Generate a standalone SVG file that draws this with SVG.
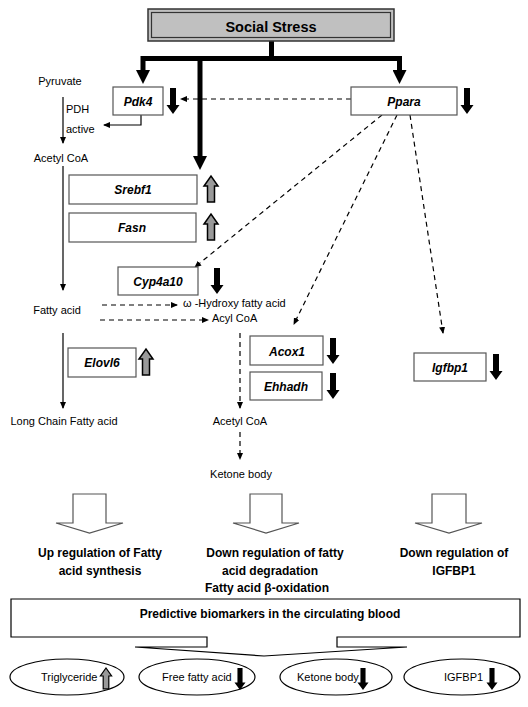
<svg xmlns="http://www.w3.org/2000/svg" width="528" height="707" viewBox="0 0 528 707">
<style>
text{font-family:"Liberation Sans",Arial,sans-serif;fill:#000}
.t{font-size:11px}
.g{font-size:12px;font-weight:bold;font-style:italic}
.b{font-size:12px;font-weight:bold}
.box{fill:#fff;stroke:#555;stroke-width:1.2}
.thin{fill:none;stroke:#000;stroke-width:1.2}
.dash{fill:none;stroke:#000;stroke-width:1.2;stroke-dasharray:5,4}
.thick{fill:none;stroke:#000;stroke-width:5}
.hollow{fill:#fff;stroke:#555;stroke-width:1.2}
</style>
<defs>
<marker id="ah" markerWidth="7" markerHeight="6" refX="6" refY="3" orient="auto" markerUnits="userSpaceOnUse"><path d="M0,0 L7,3 L0,6 Z" fill="#000"/></marker>
<marker id="big" markerWidth="14" markerHeight="14" refX="2" refY="7" orient="auto" markerUnits="userSpaceOnUse"><path d="M0,0 L14,7 L0,14 Z" fill="#000"/></marker>
<path id="dn" d="M-3,0 H3 V17 H6.5 L0,26 L-6.5,17 H-3 Z" fill="#000"/>
<path id="up" d="M-3.5,26 V10 H-7 L0,0 L7,10 H3.5 V26 Z" fill="#999" stroke="#000" stroke-width="1.5"/>
</defs>

<g id="connectors">
<path class="thick" d="M271.5,41 V58.5"/>
<path class="thick" d="M143,58.5 H399.5"/>
<path class="thick" d="M143,56 V72" marker-end="url(#big)"/>
<path class="thick" d="M200,56 V158" marker-end="url(#big)"/>
<path class="thick" d="M399.5,56 V72" marker-end="url(#big)"/>
<path class="dash" d="M351,99 H181" marker-end="url(#ah)"/>
<path class="thin" d="M141,115 V125 H104" marker-end="url(#ah)"/>
<path class="thin" d="M63,97 V143" marker-end="url(#ah)"/>
<path class="thin" d="M63,166 V290" marker-end="url(#ah)"/>
<path class="thin" d="M63,333 V408" marker-end="url(#ah)"/>
<path class="dash" d="M382,115 L195,267" marker-end="url(#ah)"/>
<path class="dash" d="M397,115 L294,324" marker-end="url(#ah)"/>
<path class="dash" d="M410,115 L443,333" marker-end="url(#ah)"/>
<path class="dash" d="M102,305 H177" marker-end="url(#ah)"/>
<path class="dash" d="M100,320 H208" marker-end="url(#ah)"/>
<path class="dash" d="M240,333 V408" marker-end="url(#ah)"/>
<path class="dash" d="M240,432 V459" marker-end="url(#ah)"/>
<path class="hollow" d="M73,494 H106 V523 H123 L89.5,533 L56,523 H73 Z"/>
<path class="hollow" d="M250,494 H282 V523 H299 L266,533 L233,523 H250 Z"/>
<path class="hollow" d="M432,494 H466 V523 H482 L449,533 L415,523 H432 Z"/>
</g>

<g id="social-stress">
<rect x="148" y="9" width="246" height="32" fill="#c0c0c0" stroke="#333" stroke-width="1.5"/>
<rect x="151.5" y="12.5" width="239" height="25" fill="none" stroke="#333" stroke-width="1.2"/>
<text x="271" y="32" text-anchor="middle" style="font-size:14.5px;font-weight:bold">Social Stress</text>
</g>

<g id="pyruvate"><text class="t" x="60" y="85" text-anchor="middle">Pyruvate</text></g>
<g id="pdh"><text class="t" x="66" y="113">PDH</text><text class="t" x="66" y="133">active</text></g>
<g id="acetylcoa1"><text class="t" x="61" y="162" text-anchor="middle">Acetyl CoA</text></g>
<g id="fattyacid"><text class="t" x="57" y="314" text-anchor="middle">Fatty acid</text></g>
<g id="lcfa"><text class="t" x="64" y="425" text-anchor="middle">Long Chain Fatty acid</text></g>
<g id="hydroxy"><text class="t" x="183" y="307">ω -Hydroxy fatty acid</text></g>
<g id="acylcoa"><text class="t" x="212" y="322">Acyl CoA</text></g>
<g id="acetylcoa2"><text class="t" x="240" y="425" text-anchor="middle">Acetyl CoA</text></g>
<g id="ketone"><text class="t" x="241" y="478" text-anchor="middle">Ketone body</text></g>

<g id="pdk4">
<rect class="box" x="113" y="87" width="50" height="28"/>
<text class="g" x="138" y="106" text-anchor="middle">Pdk4</text>
<use href="#dn" x="173" y="88"/>
</g>
<g id="ppara">
<rect class="box" x="351" y="87" width="106" height="28"/>
<text class="g" x="404" y="106" text-anchor="middle">Ppara</text>
<use href="#dn" x="467" y="88"/>
</g>
<g id="srebf1">
<rect class="box" x="69" y="175" width="128" height="29"/>
<text class="g" x="133" y="194" text-anchor="middle">Srebf1</text>
<use href="#up" x="211" y="176"/>
</g>
<g id="fasn">
<rect class="box" x="69" y="213" width="127" height="29"/>
<text class="g" x="132" y="232" text-anchor="middle">Fasn</text>
<use href="#up" x="211" y="214"/>
</g>
<g id="cyp4a10">
<rect class="box" x="118" y="267" width="80" height="28"/>
<text class="g" x="158" y="286" text-anchor="middle">Cyp4a10</text>
<use href="#dn" x="217" y="268"/>
</g>
<g id="elovl6">
<rect class="box" x="68" y="348" width="68" height="29"/>
<text class="g" x="102" y="367" text-anchor="middle">Elovl6</text>
<use href="#up" x="146" y="349"/>
</g>
<g id="acox1">
<rect class="box" x="250" y="336" width="73" height="29"/>
<text class="g" x="287" y="356" text-anchor="middle">Acox1</text>
<use href="#dn" x="333" y="338"/>
</g>
<g id="ehhadh">
<rect class="box" x="250" y="372" width="72" height="28"/>
<text class="g" x="286" y="391" text-anchor="middle">Ehhadh</text>
<use href="#dn" x="333" y="373"/>
</g>
<g id="igfbp1">
<rect class="box" x="414" y="353" width="72" height="28"/>
<text class="g" x="450" y="372" text-anchor="middle">Igfbp1</text>
<use href="#dn" x="496" y="354"/>
</g>

<g id="outcome-up">
<text class="b" x="100" y="557" text-anchor="middle">Up regulation of Fatty</text>
<text class="b" x="100" y="575" text-anchor="middle">acid synthesis</text>
</g>
<g id="outcome-down">
<text class="b" x="275" y="557" text-anchor="middle">Down regulation of fatty</text>
<text class="b" x="270" y="575" text-anchor="middle">acid degradation</text>
<text class="b" x="267" y="592" text-anchor="middle">Fatty acid β-oxidation</text>
</g>
<g id="outcome-igfbp1">
<text class="b" x="454" y="557" text-anchor="middle">Down regulation of</text>
<text class="b" x="454" y="575" text-anchor="middle">IGFBP1</text>
</g>

<g id="biomarkers">
<path d="M11,599 H520 V637 H337 V647 H407 L264,656 L135,647 H207 V637 H11 Z" fill="#fff" stroke="#000" stroke-width="1.2"/>
<text class="b" x="270" y="618" text-anchor="middle">Predictive biomarkers in the circulating blood</text>
</g>

<g id="triglyceride">
<ellipse cx="67" cy="677" rx="57" ry="18" fill="#fff" stroke="#000" stroke-width="1.2"/>
<text class="t" x="41" y="681">Triglyceride</text>
<use href="#up" transform="translate(106,668) scale(0.8)"/>
</g>
<g id="ffa">
<ellipse cx="197" cy="677" rx="58" ry="18" fill="#fff" stroke="#000" stroke-width="1.2"/>
<text class="t" x="162" y="681">Free fatty acid</text>
<use href="#dn" transform="translate(240,668) scale(0.85)"/>
</g>
<g id="ketone-body">
<ellipse cx="336" cy="677" rx="56" ry="18" fill="#fff" stroke="#000" stroke-width="1.2"/>
<text class="t" x="297" y="681">Ketone body</text>
<use href="#dn" transform="translate(363,668) scale(0.85)"/>
</g>
<g id="igfbp1-blood">
<ellipse cx="462" cy="677" rx="58" ry="18" fill="#fff" stroke="#000" stroke-width="1.2"/>
<text class="t" x="444" y="681">IGFBP1</text>
<use href="#dn" transform="translate(492,668) scale(0.85)"/>
</g>
</svg>
